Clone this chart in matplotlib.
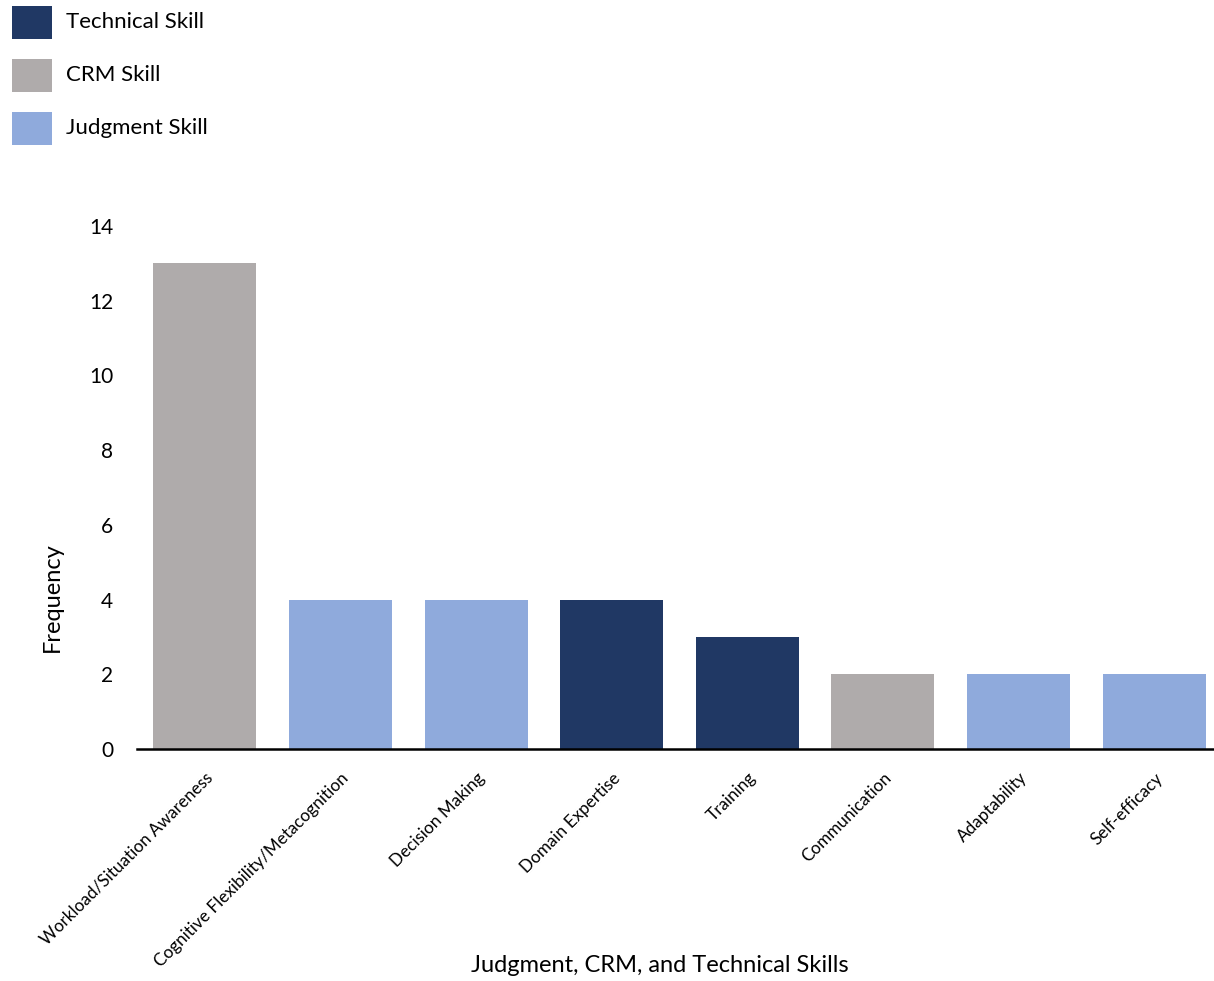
import matplotlib
matplotlib.use("Agg")
import matplotlib.pyplot as plt
from matplotlib.patches import Rectangle

plt.rcParams['font.family'] = ['Lato', 'DejaVu Sans']

categories = [
    "Workload/Situation Awareness",
    "Cognitive Flexibility/Metacognition",
    "Decision Making",
    "Domain Expertise",
    "Training",
    "Communication",
    "Adaptability",
    "Self-efficacy",
]
frequency = [13, 4, 4, 4, 3, 2, 2, 2]
skill_type = ["CRM", "Judgment", "Judgment", "Technical", "Technical", "CRM", "Judgment", "Judgment"]

skill_colors = {
    "Technical": "#203864",
    "CRM": "#AFABAB",
    "Judgment": "#8FAADC",
}
legend_labels = ["Technical Skill", "CRM Skill", "Judgment Skill"]
legend_keys = ["Technical", "CRM", "Judgment"]

W, H = 1214, 981
fig = plt.figure(figsize=(W / 100, H / 100), dpi=100)
ax = fig.add_axes([137 / W, (H - 749) / H, 1085 / W, 523 / H])

x = list(range(len(categories)))
ax.bar(x, frequency, width=0.76, color=[skill_colors[s] for s in skill_type], zorder=2)

ax.set_xlim(-0.5, len(categories) - 0.5)
ax.set_ylim(0, 14)
ax.set_yticks(range(0, 15, 2))
ax.tick_params(axis='y', length=0, pad=17, labelsize=15)
ax.set_xticks(x)
ax.set_xticklabels(categories, rotation=45, ha='right', rotation_mode='anchor', fontsize=12.3)
ax.tick_params(axis='x', length=0, pad=15)

for side in ("top", "right", "left"):
    ax.spines[side].set_visible(False)
ax.spines["bottom"].set_linewidth(1.8)
ax.spines["bottom"].set_color("black")
ax.spines["bottom"].set_clip_on(False)

fig.text(52 / W, 1 - 597 / H, "Frequency", fontsize=17, rotation=90,
         ha='center', va='center')
fig.text(660 / W, 1 - 966 / H, "Judgment, CRM, and Technical Skills", fontsize=17,
         ha='center', va='center')

# Legend: colour swatches stacked in the top-left corner
swatch_left, swatch_w, swatch_h = 12, 40, 33
row_centers = [22, 75, 128]
for key, label, yc in zip(legend_keys, legend_labels, row_centers):
    fig.patches.append(Rectangle((swatch_left / W, 1 - (yc + swatch_h / 2) / H),
                                 swatch_w / W, swatch_h / H,
                                 transform=fig.transFigure, facecolor=skill_colors[key],
                                 edgecolor='none'))
    fig.text(66 / W, 1 - yc / H, label, fontsize=16, ha='left', va='center')

fig.savefig("out.png", dpi=100)
